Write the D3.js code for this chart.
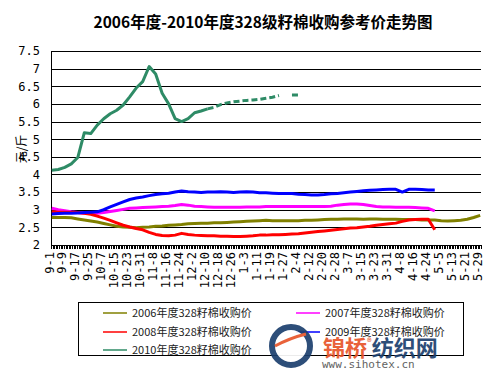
<!DOCTYPE html>
<head>
  <meta charset="utf-8">
  <script src="https://d3js.org/d3.v7.min.js"></script>
  <style>
    body { margin: 0; background: #fff; }
    svg { display: block; }
  </style>
</head>
<body>
  <svg width="492" height="370"></svg>
  <script>
    // category axis: one tick per trading day, a label every 8th day
    var dayCount = 265;
    var labelEvery = 8;
    var xLabels = ['9-1', '9-9', '9-17', '9-25', '10-7', '10-15', '10-23', '10-31', '11-8', '11-16',
      '11-24', '12-2', '12-10', '12-18', '12-26', '1-3', '1-11', '1-19', '1-27', '2-4',
      '2-12', '2-20', '2-28', '3-7', '3-15', '3-23', '3-31', '4-8', '4-16', '4-24',
      '5-5', '5-13', '5-21', '5-29'];
    var yTicks = [2, 2.5, 3, 3.5, 4, 4.5, 5, 5.5, 6, 6.5, 7, 7.5];

    // values read every 4th day (元/斤), null = no quote
    var step = 4;
    var s2006 = [2.78, 2.78, 2.78, 2.77, 2.74, 2.71, 2.68, 2.65, 2.61, 2.57, 2.53, 2.51, 2.50, 2.49, 2.50, 2.51,
      2.53, 2.54, 2.56, 2.57, 2.58, 2.60, 2.61, 2.62, 2.62, 2.63, 2.63, 2.64, 2.65, 2.66, 2.67, 2.68,
      2.69, 2.70, 2.69, 2.69, 2.69, 2.69, 2.69, 2.70, 2.70, 2.71, 2.72, 2.73, 2.73, 2.74, 2.74, 2.74,
      2.73, 2.74, 2.74, 2.73, 2.73, 2.73, 2.72, 2.72, 2.72, 2.71, 2.71, 2.71, 2.69, 2.68, 2.69, 2.70,
      2.73, 2.78, 2.84];
    var s2007 = [3.04, 3.00, 2.97, 2.94, 2.92, 2.90, 2.90, 2.90, 2.92, 2.95, 2.98, 3.01, 3.04, 3.05, 3.06, 3.07,
      3.08, 3.09, 3.10, 3.12, 3.15, 3.13, 3.10, 3.09, 3.08, 3.07, 3.07, 3.07, 3.07, 3.07, 3.08, 3.08,
      3.08, 3.09, 3.09, 3.09, 3.09, 3.09, 3.09, 3.09, 3.09, 3.09, 3.09, 3.10, 3.13, 3.15, 3.16, 3.16,
      3.15, 3.12, 3.09, 3.08, 3.08, 3.07, 3.07, 3.07, 3.06, 3.05, 3.04, 2.97];
    var s2008 = [2.94, 2.93, 2.93, 2.92, 2.92, 2.90, 2.87, 2.82, 2.76, 2.70, 2.63, 2.56, 2.51, 2.47, 2.43, 2.36,
      2.30, 2.27, 2.26, 2.28, 2.33, 2.30, 2.28, 2.27, 2.26, 2.26, 2.25, 2.25, 2.24, 2.24, 2.25, 2.26,
      2.28, 2.28, 2.29, 2.29, 2.30, 2.31, 2.32, 2.34, 2.36, 2.38, 2.40, 2.42, 2.44, 2.46, 2.48, 2.49,
      2.51, 2.53, 2.56, 2.58, 2.60, 2.62, 2.67, 2.71, 2.72, 2.73, 2.73, 2.43];
    var s2009 = [2.88, 2.89, 2.90, 2.90, 2.91, 2.92, 2.93, 2.94, 3.00, 3.08, 3.15, 3.22, 3.29, 3.33, 3.36, 3.40,
      3.43, 3.45, 3.47, 3.50, 3.53, 3.51, 3.50, 3.49, 3.50, 3.50, 3.51, 3.50, 3.49, 3.50, 3.51, 3.50,
      3.48, 3.48, 3.47, 3.46, 3.46, 3.46, 3.44, 3.43, 3.42, 3.42, 3.43, 3.45, 3.46, 3.48, 3.50, 3.52,
      3.54, 3.55, 3.56, 3.57, 3.58, 3.58, 3.50, 3.58, 3.58, 3.57, 3.56, 3.56];
    var s2010 = [4.12, 4.14, 4.20, 4.30, 4.48, 5.18, 5.16, 5.40, 5.58, 5.72, 5.82, 5.97, 6.20, 6.45, 6.63, 7.06,
      6.85, 6.30, 6.00, 5.58, 5.50, 5.58, 5.75, 5.80, 5.86, 5.90, 5.98, 6.03, 6.06, 6.08, 6.10, 6.11,
      6.13, 6.16, 6.19, 6.24, null, 6.25, 6.25];

    var seriesNames = ['2006年度328籽棉收购价', '2007年度328籽棉收购价', '2008年度328籽棉收购价',
      '2009年度328籽棉收购价', '2010年度328籽棉收购价'];
    var seriesValues = [s2006, s2007, s2008, s2009, s2010];
    var colors = ['#808000', '#ff00ff', '#ff0000', '#0000ff', '#2e8b66'];
    var dashFrom = 96; // 2010 quotes are patchy after this day

    var plot = { left: 51, right: 481, top: 51, bottom: 245 };
    var svg = d3.select('svg');
    var monoFont = '"DejaVu Sans Mono", monospace';
    var cjkFont = '"Noto Sans CJK SC", sans-serif';

    var x = d3.scaleLinear().domain([0, dayCount]).range([plot.left, plot.right]);
    var y = d3.scaleLinear().domain([2, 7.5]).range([plot.bottom, plot.top]);

    // title
    svg.append('text')
      .attr('x', 263).attr('y', 28)
      .attr('text-anchor', 'middle')
      .style('font-family', cjkFont)
      .style('font-size', '15.5px')
      .style('font-weight', 'bold')
      .text('2006年度-2010年度328级籽棉收购参考价走势图');

    // gridlines
    svg.append('g')
      .attr('transform', `translate(${plot.left},0)`)
      .call(d3.axisLeft(y).tickValues(yTicks).tickSize(-(plot.right - plot.left)).tickFormat(''))
      .call(g => g.select('.domain').remove())
      .selectAll('line').attr('stroke', '#000').attr('shape-rendering', 'crispEdges');

    // y axis
    var yAxis = svg.append('g')
      .attr('transform', `translate(${plot.left},0)`)
      .call(d3.axisLeft(y).tickValues(yTicks).tickSize(0).tickPadding(11).tickFormat(d => String(d)));
    yAxis.select('.domain').attr('stroke', '#000').attr('shape-rendering', 'crispEdges');
    yAxis.selectAll('text')
      .attr('fill', '#000')
      .style('font-family', monoFont)
      .style('font-size', '12px');

    svg.append('text')
      .attr('transform', 'translate(26,149) rotate(-90)')
      .attr('text-anchor', 'middle')
      .style('font-family', cjkFont)
      .style('font-size', '12px')
      .text('元/斤');

    // x axis: dense day ticks
    var xTickAxis = svg.append('g')
      .attr('transform', `translate(0,${plot.bottom})`)
      .call(d3.axisBottom(x).tickValues(d3.range(0, dayCount + 1)).tickSize(4).tickFormat(''));
    xTickAxis.selectAll('line').attr('stroke', '#000').attr('shape-rendering', 'crispEdges');
    xTickAxis.select('.domain').attr('stroke', '#000').attr('shape-rendering', 'crispEdges');

    // x axis labels
    var xLabelAxis = svg.append('g')
      .attr('transform', `translate(0,${plot.bottom})`)
      .call(d3.axisBottom(x)
        .tickValues(xLabels.map((d, i) => i * labelEvery + 0.5))
        .tickSize(0)
        .tickFormat((d, i) => xLabels[i]));
    xLabelAxis.select('.domain').remove();
    xLabelAxis.selectAll('text')
      .attr('transform', 'rotate(-90)')
      .attr('text-anchor', 'end')
      .attr('x', -7)
      .attr('y', 0)
      .attr('dy', '0.1em')
      .attr('fill', '#000')
      .style('font-family', monoFont)
      .style('font-size', '12px');

    // series lines
    var line = d3.line()
      .defined(d => d[1] != null)
      .x(d => x(d[0] + 0.5))
      .y(d => y(d[1]));

    seriesValues.forEach(function (vals, si) {
      var pts = vals.map((v, i) => [i * step, v]);
      if (si === 4) {
        svg.append('path')
          .datum(pts.filter(p => p[0] <= dashFrom))
          .attr('d', line)
          .attr('fill', 'none')
          .attr('stroke', colors[si])
          .attr('stroke-width', 3)
          .attr('stroke-linejoin', 'round');
        svg.append('path')
          .datum(pts.filter(p => p[0] >= dashFrom))
          .attr('d', line)
          .attr('fill', 'none')
          .attr('stroke', colors[si])
          .attr('stroke-width', 3)
          .attr('stroke-dasharray', '6,3');
      } else {
        svg.append('path')
          .datum(pts)
          .attr('d', line)
          .attr('fill', 'none')
          .attr('stroke', colors[si])
          .attr('stroke-width', 3)
          .attr('stroke-linejoin', 'round');
      }
    });

    // legend
    var legend = svg.append('g');
    legend.append('rect')
      .attr('x', 78.5).attr('y', 302.5)
      .attr('width', 385).attr('height', 53)
      .attr('fill', '#fff')
      .attr('stroke', '#000');

    var legItem = legend.selectAll('g.item')
      .data(seriesNames)
      .enter()
      .append('g')
      .attr('class', 'item')
      .attr('transform', (d, i) => `translate(${i % 2 ? 296 : 103},${[313, 313, 332, 332, 350][i]})`);
    legItem.append('line')
      .attr('x1', 0).attr('x2', 24)
      .attr('stroke', (d, i) => colors[i])
      .attr('stroke-width', 1.5);
    legItem.append('text')
      .attr('x', 29)
      .attr('dy', '0.38em')
      .attr('fill', '#222')
      .style('font-family', cjkFont)
      .style('font-size', '11px')
      .text(d => d);

    // site watermark
    var mark = svg.append('g').attr('opacity', 0.92);
    mark.append('circle')
      .attr('cx', 291).attr('cy', 346).attr('r', 19)
      .attr('fill', '#fff')
      .attr('stroke', '#1c3f6e')
      .attr('stroke-width', 6);
    mark.append('path')
      .attr('d', 'M275,346 Q290,338 306,334')
      .attr('fill', 'none')
      .attr('stroke', '#e8552a')
      .attr('stroke-width', 3);
    mark.append('text')
      .attr('x', 323).attr('y', 356)
      .style('font-family', cjkFont)
      .style('font-size', '22px')
      .style('font-weight', 'bold')
      .call(t => {
        t.append('tspan').attr('fill', '#e8552a').text('锦桥');
        t.append('tspan').attr('fill', '#e8552a').attr('font-size', '9px').attr('dy', -10).text('®');
        t.append('tspan').attr('fill', '#1c3f6e').attr('dy', 10).text('纺织网');
      });
    mark.append('text')
      .attr('x', 322).attr('y', 368)
      .attr('fill', '#555')
      .style('font-family', monoFont)
      .style('font-size', '11px')
      .text('www.sihotex.cn');
  </script>
</body>
